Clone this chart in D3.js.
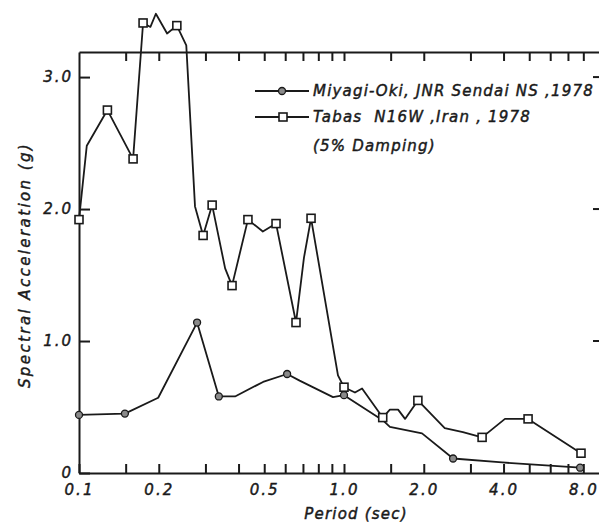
<!DOCTYPE html>
<html>
<head>
<meta charset="utf-8">
<script src="https://cdnjs.cloudflare.com/ajax/libs/d3/7.8.5/d3.min.js"></script>
<style>
  body { margin: 0; background: #fff; overflow: hidden; }
  svg { display: block; overflow: hidden; }
  svg text { font-family: "DejaVu Sans", sans-serif; font-style: oblique; fill: #1a1a1a; stroke: #1a1a1a; stroke-width: 0.45px; }
</style>
</head>
<body>
<div id="chart"></div>
<script>
var tabasPeriod = [0.100, 0.107, 0.128, 0.160, 0.1745, 0.186, 0.195, 0.215, 0.234, 0.254, 0.274, 0.294, 0.318, 0.356, 0.378, 0.434, 0.494, 0.554, 0.659, 0.706, 0.751, 0.949, 1.00, 1.10, 1.17, 1.40, 1.49, 1.60, 1.70, 1.90, 2.40, 2.81, 3.32, 4.05, 4.95, 7.84];
var tabasAccel  = [1.92, 2.48, 2.75, 2.38, 3.41, 3.38, 3.48, 3.33, 3.39, 3.24, 2.02, 1.80, 2.03, 1.55, 1.42, 1.92, 1.83, 1.89, 1.14, 1.63, 1.93, 0.74, 0.65, 0.61, 0.64, 0.42, 0.48, 0.48, 0.41, 0.55, 0.34, 0.31, 0.27, 0.41, 0.41, 0.15];
var tabasMark   = [1, 0, 1, 1, 1, 0, 0, 0, 1, 0, 0, 1, 1, 0, 1, 1, 0, 1, 1, 0, 1, 0, 1, 0, 0, 1, 0, 0, 0, 1, 0, 0, 1, 0, 1, 1];

// Miyagi-Oki, JNR Sendai NS, 1978 (circles)
var miyagiPeriod = [0.100, 0.149, 0.199, 0.279, 0.337, 0.388, 0.495, 0.61, 0.68, 0.909, 1.00, 1.40, 1.49, 1.97, 2.58, 3.95, 7.78];
var miyagiAccel  = [0.44, 0.45, 0.57, 1.14, 0.58, 0.58, 0.69, 0.75, 0.70, 0.575, 0.59, 0.40, 0.35, 0.30, 0.11, 0.08, 0.04];
var miyagiMark   = [1, 1, 0, 1, 1, 0, 0, 1, 0, 0, 1, 0, 0, 0, 1, 0, 1];

var periodTicks = [0.15, 0.2, 0.3, 0.4, 0.5, 0.6, 0.7, 0.8, 0.9, 1, 1.5, 2, 3, 4, 5, 6, 7, 8];
var periodLabels = [0.1, 0.2, 0.5, 1, 2, 4, 8];
var accelTicks = [0, 1, 2, 3];
var rightTicks = [1, 2, 3];

var legendNames = ["Miyagi-Oki, JNR Sendai NS ,1978", "Tabas  N16W ,Iran , 1978"];
var legendNote = "(5% Damping)";

const width = 602, height = 526;
const margins = { top: 52, bottom: 53, left: 79, right: 0 };
const ink = "#1a1a1a";
const cutAt = 599;

var root = d3.select("#chart").append("svg")
    .attr("width", width)
    .attr("height", height);

// the scanned figure is cut off at the right, so everything is clipped short of the edge
root.append("clipPath").attr("id", "cut")
    .append("rect").attr("x", 0).attr("y", 0).attr("width", cutAt).attr("height", height);

var svg = root.append("g").attr("clip-path", "url(#cut)");

var scaleX = d3.scaleLog()
    .domain([0.1, 9.41])
    .range([margins.left, width - margins.right]);

var scaleY = d3.scaleLinear()
    .domain([0, 3.19])
    .range([height - margins.bottom, margins.top]);

var fmtPeriod = d => periodLabels.indexOf(d) >= 0 ? d.toFixed(1) : "";

// bottom axis with labels
svg.append("g")
    .attr("class", "x axis")
    .attr("transform", "translate(0," + scaleY(0) + ")")
    .call(d3.axisBottom(scaleX)
        .tickValues([0.1].concat(periodTicks))
        .tickSizeInner(-9)
        .tickSizeOuter(0)
        .tickPadding(11)
        .tickFormat(fmtPeriod));

// top axis, ticks only
svg.append("g")
    .attr("class", "x2 axis")
    .attr("transform", "translate(0," + margins.top + ")")
    .call(d3.axisTop(scaleX).tickValues(periodTicks).tickSizeInner(-9).tickSizeOuter(0).tickFormat(""));

// left axis
svg.append("g")
    .attr("class", "y axis")
    .attr("transform", "translate(" + margins.left + ",0)")
    .call(d3.axisLeft(scaleY)
        .tickValues(accelTicks)
        .tickSizeInner(-11)
        .tickSizeOuter(0)
        .tickPadding(6)
        .tickFormat(d => d === 0 ? "0" : d.toFixed(1)));

svg.selectAll(".axis path, .axis line")
    .attr("stroke", ink)
    .attr("stroke-width", 2);

// stubs of the right frame's inward ticks
svg.selectAll(".rtick")
    .data(rightTicks)
    .enter()
    .append("line")
    .attr("class", "rtick")
    .attr("x1", cutAt - 6)
    .attr("x2", cutAt)
    .attr("y1", d => scaleY(d))
    .attr("y2", d => scaleY(d))
    .attr("stroke", ink)
    .attr("stroke-width", 2);

svg.selectAll(".axis text")
    .attr("fill", ink)
    .style("font-size", "15px")
    .style("letter-spacing", "2px");

// axis titles
svg.append("text")
    .attr("x", 356)
    .attr("y", 519)
    .attr("text-anchor", "middle")
    .style("font-size", "15px")
    .style("letter-spacing", "1.2px")
    .text("Period (sec)");

svg.append("text")
    .attr("transform", "translate(30,265) rotate(-90)")
    .attr("text-anchor", "middle")
    .style("font-size", "15px")
    .style("letter-spacing", "2.4px")
    .text("Spectral Acceleration (g)");

// data lines
var line = d3.line()
    .x(d => scaleX(d[0]))
    .y(d => scaleY(d[1]));

var tabas = tabasPeriod.map((p, i) => [p, tabasAccel[i], tabasMark[i]]);
var miyagi = miyagiPeriod.map((p, i) => [p, miyagiAccel[i], miyagiMark[i]]);

[miyagi, tabas].forEach(function (s) {
    svg.append("path")
        .datum(s)
        .attr("d", line)
        .attr("fill", "none")
        .attr("stroke", ink)
        .attr("stroke-width", 1.8)
        .attr("stroke-linejoin", "round");
});

svg.selectAll(".circ")
    .data(miyagi.filter(d => d[2]))
    .enter()
    .append("circle")
    .attr("class", "circ")
    .attr("cx", d => scaleX(d[0]))
    .attr("cy", d => scaleY(d[1]))
    .attr("r", 3.5)
    .attr("fill", "#8a8a8a")
    .attr("stroke", ink)
    .attr("stroke-width", 1.3);

svg.selectAll(".sq")
    .data(tabas.filter(d => d[2]))
    .enter()
    .append("rect")
    .attr("class", "sq")
    .attr("x", d => scaleX(d[0]) - 4)
    .attr("y", d => scaleY(d[1]) - 4)
    .attr("width", 8)
    .attr("height", 8)
    .attr("fill", "#fff")
    .attr("stroke", ink)
    .attr("stroke-width", 1.6);

// legend
var legend = svg.append("g").attr("transform", "translate(255,0)");
var legendY = [91, 117];

legendNames.forEach(function (name, i) {
    legend.append("line")
        .attr("x1", 0).attr("x2", 54)
        .attr("y1", legendY[i]).attr("y2", legendY[i])
        .attr("stroke", ink)
        .attr("stroke-width", 1.8);
    legend.append("text")
        .attr("x", 58)
        .attr("y", legendY[i] + 5)
        .style("font-size", "15px")
        .style("letter-spacing", "1.2px")
        .style("white-space", "pre")
        .text(name);
});

legend.append("circle")
    .attr("cx", 27).attr("cy", legendY[0]).attr("r", 3.5)
    .attr("fill", "#8a8a8a").attr("stroke", ink).attr("stroke-width", 1.3);

legend.append("rect")
    .attr("x", 24).attr("y", legendY[1] - 4).attr("width", 8).attr("height", 8)
    .attr("fill", "#fff").attr("stroke", ink).attr("stroke-width", 1.6);

legend.append("text")
    .attr("x", 58)
    .attr("y", 151)
    .style("font-size", "15px")
    .style("letter-spacing", "1.2px")
    .text(legendNote);
</script>
</body>
</html>
